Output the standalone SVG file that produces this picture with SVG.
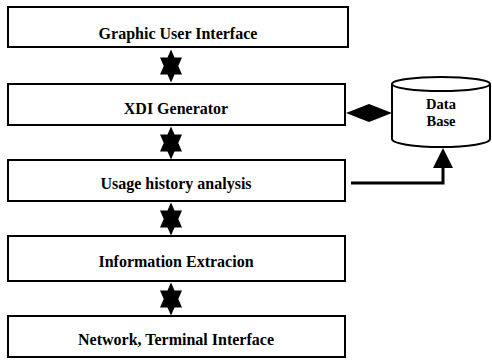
<svg xmlns="http://www.w3.org/2000/svg" width="492" height="360" viewBox="0 0 492 360">
<style>
.box{fill:#fff;stroke:#000;stroke-width:2}
.lbl{font-family:"Liberation Serif","Times New Roman",serif;font-weight:bold;font-size:16px;text-anchor:middle;fill:#000}
.db{font-family:"Liberation Serif","Times New Roman",serif;font-weight:bold;font-size:14.5px;text-anchor:middle;fill:#000}
.ln{fill:none;stroke:#000;stroke-width:3}
</style>
<defs>
<path id="star" d="M0,-16.5 L11,8.5 L-11,8.5 Z M0,16.5 L-11,-8.5 L11,-8.5 Z" fill="#000"/>
</defs>
<rect width="492" height="360" fill="#fff"/>
<g id="gui"><rect class="box" x="8" y="7" width="340" height="40"/><text class="lbl" x="178" y="39">Graphic User Interface</text></g>
<g id="xdi"><rect class="box" x="8" y="84" width="337" height="41"/><text class="lbl" x="176" y="114">XDI Generator</text></g>
<g id="usage"><rect class="box" x="8" y="160" width="337" height="41"/><text class="lbl" x="176" y="189">Usage history analysis</text></g>
<g id="info"><rect class="box" x="8" y="236" width="337" height="45"/><text class="lbl" x="176" y="267">Information Extracion</text></g>
<g id="net"><rect class="box" x="8" y="316" width="337" height="41"/><text class="lbl" x="176" y="345">Network, Terminal Interface</text></g>
<g id="database">
<path d="M392,84 L392,139 A49,8 0 0 0 490,139 L490,84" fill="#fff" stroke="#000" stroke-width="2"/>
<ellipse cx="441" cy="84" rx="49" ry="7" fill="#fff" stroke="#000" stroke-width="2"/>
<text class="db" x="441" y="109">Data</text>
<text class="db" x="441" y="126">Base</text>
</g>
<g id="connectors">
<use href="#star" x="171" y="66"/>
<use href="#star" x="171" y="143"/>
<use href="#star" x="171" y="219"/>
<use href="#star" x="171" y="299"/>
<polygon points="346,113 369,104 392,113 369,122" fill="#000"/>
<polyline class="ln" points="351,183 443,183 443,166"/>
<polygon points="443,148 453,168 433,168" fill="#000"/>
</g>
</svg>
